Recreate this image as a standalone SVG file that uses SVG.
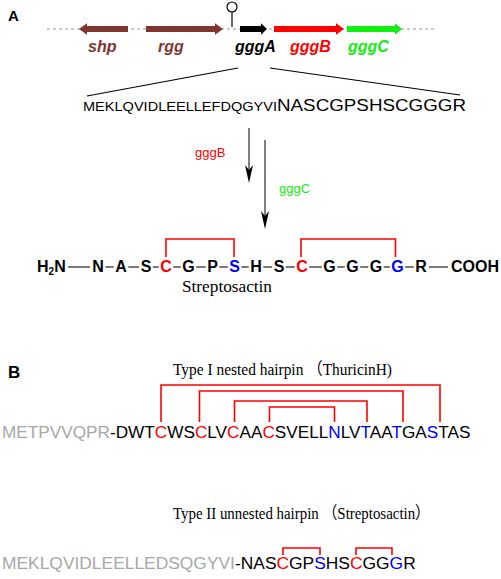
<svg xmlns="http://www.w3.org/2000/svg" width="501" height="579" viewBox="0 0 501 579">
<style>
.sans{font-family:"Liberation Sans",Arial,sans-serif}
.serif{font-family:"Liberation Serif","Noto Sans CJK SC",serif}
.lbl{font-family:"Liberation Sans",Arial,sans-serif;font-weight:bold;font-style:italic;font-size:16px}
.aa{font-family:"Liberation Sans",Arial,sans-serif;font-weight:bold;font-size:16px;text-anchor:middle}
.br{fill:none;stroke:#ff0000;stroke-width:1.6}
.dash{stroke:#333;stroke-width:1.3}
.red{fill:#ff0000}
.blue{fill:#0000ff}
.gray{fill:#a8a8a8}
.ah{fill:#000}
</style>
<rect width="501" height="579" fill="#fff"/>
<g id="panelA-label"><text x="8" y="20.5" class="sans" font-weight="bold" font-size="15">A</text></g>
<g id="panelB-label"><text x="8" y="378" class="sans" font-weight="bold" font-size="17">B</text></g>

<g id="dna">
<line x1="47" y1="29" x2="436" y2="29" stroke="#bbbbbb" stroke-width="1.5" stroke-dasharray="3,3"/>
</g>
<g id="terminator">
<line x1="232" y1="12" x2="232" y2="27" stroke="#000" stroke-width="1.2"/>
<circle cx="232" cy="7" r="5" fill="#fff" stroke="#000" stroke-width="1.2"/>
</g>
<g id="shp">
<polygon points="128,26 87,26 87,23.3 79,29 87,34.7 87,32 128,32" fill="#7f3530"/>
<text x="88" y="52" class="lbl" fill="#7f3530">shp</text>
</g>
<g id="rgg">
<polygon points="146,26 215,26 215,23.3 223,29 215,34.7 215,32 146,32" fill="#7f3530"/>
<text x="158" y="52" class="lbl" fill="#7f3530">rgg</text>
</g>
<g id="gggA">
<polygon points="240,26 261,26 261,23.3 267,29 261,34.7 261,32 240,32" fill="#000"/>
<text x="235" y="52" class="lbl" fill="#000">gggA</text>
</g>
<g id="gggB">
<polygon points="274,26 336,26 336,23.3 344,29 336,34.7 336,32 274,32" fill="#ff0000"/>
<text x="290" y="52" class="lbl" fill="#ff0000">gggB</text>
</g>
<g id="gggC">
<polygon points="347,26 395,26 395,23.3 402,29 395,34.7 395,32 347,32" fill="#11ee11"/>
<text x="348" y="52" class="lbl" fill="#11ee11">gggC</text>
</g>

<g id="precursor">
<text x="83" y="111" class="sans" font-size="13.5" textLength="194" lengthAdjust="spacingAndGlyphs">MEKLQVIDLEELLEFDQGYVI</text>
<text x="277" y="111" class="sans" font-size="16.5" textLength="189" lengthAdjust="spacingAndGlyphs">NASCGPSHSCGGGR</text>
</g>

<g id="enzyme-labels">
<text x="195" y="157" class="sans" font-size="13" fill="#ff0000">gggB</text>
<text x="279" y="193" class="sans" font-size="13" fill="#11ee11">gggC</text>
</g>

<g id="connectors">
<line x1="238" y1="68" x2="87" y2="96" stroke="#000" stroke-width="1.2"/>
<line x1="270" y1="68" x2="460" y2="95" stroke="#000" stroke-width="1.2"/>
<line x1="249" y1="128" x2="249" y2="172" stroke="#555" stroke-width="1.5"/>
<path class="ah" d="M249,183 L245,165 L249,170 L253,165 Z"/>
<line x1="265" y1="140" x2="265" y2="218" stroke="#555" stroke-width="1.5"/>
<path class="ah" d="M265,229 L261,211 L265,216 L269,211 Z"/>
<path class="br" d="M166,257 V239 H234 V257"/>
<path class="br" d="M301,257 V239 H395.5 V257"/>
<path class="br" d="M161,422 V385 H440 V422"/>
<path class="br" d="M199.5,422 V391 H403 V422"/>
<path class="br" d="M234.5,422 V401 H367 V422"/>
<path class="br" d="M269.5,422 V407 H334.5 V422"/>
<path class="br" d="M283,555 V548 H320 V555"/>
<path class="br" d="M356,555 V548 H392 V555"/>
</g>

<g id="streptosactin-structure">
<text x="37" y="272" class="sans" font-weight="bold" font-size="16">H<tspan font-size="10" dy="3">2</tspan><tspan dy="-3">N</tspan></text>
<line class="dash" x1="68" y1="267" x2="90" y2="267"/>
<text class="aa" x="98" y="272">N</text>
<line class="dash" x1="105.3" y1="267" x2="113.7" y2="267"/>
<text class="aa" x="121" y="272">A</text>
<line class="dash" x1="128.3" y1="267" x2="139.2" y2="267"/>
<text class="aa" x="146" y="272">S</text>
<line class="dash" x1="152.8" y1="267" x2="158.7" y2="267"/>
<text class="aa red" x="166" y="272">C</text>
<line class="dash" x1="173.3" y1="267" x2="180.8" y2="267"/>
<text class="aa" x="188.5" y="272">G</text>
<line class="dash" x1="196.2" y1="267" x2="205.7" y2="267"/>
<text class="aa" x="212.5" y="272">P</text>
<line class="dash" x1="219.3" y1="267" x2="227.7" y2="267"/>
<text class="aa blue" x="234.5" y="272">S</text>
<line class="dash" x1="241.3" y1="267" x2="248.7" y2="267"/>
<text class="aa" x="256" y="272">H</text>
<line class="dash" x1="263.3" y1="267" x2="272.2" y2="267"/>
<text class="aa" x="279" y="272">S</text>
<line class="dash" x1="285.8" y1="267" x2="294.7" y2="267"/>
<text class="aa red" x="302" y="272">C</text>
<line class="dash" x1="309.3" y1="267" x2="321.8" y2="267"/>
<text class="aa" x="329.5" y="272">G</text>
<line class="dash" x1="337.2" y1="267" x2="344.8" y2="267"/>
<text class="aa" x="352.5" y="272">G</text>
<line class="dash" x1="360.2" y1="267" x2="368.3" y2="267"/>
<text class="aa" x="376" y="272">G</text>
<line class="dash" x1="383.7" y1="267" x2="389.8" y2="267"/>
<text class="aa blue" x="397.5" y="272">G</text>
<line class="dash" x1="405.2" y1="267" x2="413.7" y2="267"/>
<text class="aa" x="421" y="272">R</text>
<line class="dash" x1="429" y1="267" x2="448" y2="267"/>
<text x="451" y="272" class="sans" font-weight="bold" font-size="16">COOH</text>
<text x="182" y="292" class="serif" font-size="16" textLength="90" lengthAdjust="spacingAndGlyphs">Streptosactin</text>
</g>

<g id="typeI">
<text x="173" y="375" class="serif" font-size="17" textLength="219" lengthAdjust="spacingAndGlyphs">Type I nested hairpin （ThuricinH)</text>
<text x="2" y="438" class="sans" font-size="17.2"><tspan class="gray">METPVVQPR</tspan>-DWT<tspan class="red">C</tspan>WS<tspan class="red">C</tspan>LV<tspan class="red">C</tspan>AA<tspan class="red">C</tspan>SVELL<tspan class="blue">N</tspan>LV<tspan class="blue">T</tspan>AA<tspan class="blue">T</tspan>GA<tspan class="blue">S</tspan>TAS</text>
</g>

<g id="typeII">
<text x="173" y="519" class="serif" font-size="17" textLength="257" lengthAdjust="spacingAndGlyphs">Type II unnested hairpin （Streptosactin）</text>
<text x="2" y="569" class="sans" font-size="17.4"><tspan class="gray">MEKLQVIDLEELLEDSQGYVI</tspan>-NAS<tspan class="red">C</tspan>GP<tspan class="blue">S</tspan>HS<tspan class="red">C</tspan>GG<tspan class="blue">G</tspan>R</text>
</g>
</svg>
